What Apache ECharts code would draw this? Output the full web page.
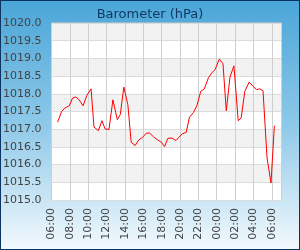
<!DOCTYPE html>
<html><head><meta charset="utf-8">
<script src="https://cdn.jsdelivr.net/npm/echarts@6/dist/echarts.min.js"></script>
<style>html,body{margin:0;padding:0;}#c{width:300px;height:250px;}</style>
</head><body><div id="c"></div>
<script>
const title = 'Barometer (hPa)';
// hours since midnight of day 1 (values > 24 are the next day)
const hours = [6.67,7.10,7.46,7.93,8.30,8.65,9.01,9.44,9.84,10.31,10.63,11.11,11.50,11.83,12.26,12.69,13.17,13.49,13.88,14.32,14.68,15.12,15.51,15.88,16.34,16.70,17.13,17.56,17.97,18.32,18.67,19.12,19.56,19.91,20.24,20.67,21.03,21.46,21.83,22.26,22.65,23.09,23.46,23.81,24.28,24.68,25.04,25.44,25.87,26.34,26.66,27.06,27.53,27.96,28.33,28.69,29.04,29.48,29.91,30.28];
const pressure = [1017.20,1017.50,1017.60,1017.66,1017.88,1017.91,1017.83,1017.66,1017.95,1018.14,1017.06,1016.96,1017.24,1017.01,1016.99,1017.83,1017.27,1017.41,1018.19,1017.69,1016.63,1016.54,1016.70,1016.76,1016.89,1016.89,1016.78,1016.70,1016.63,1016.51,1016.74,1016.75,1016.68,1016.78,1016.87,1016.91,1017.34,1017.47,1017.66,1018.07,1018.14,1018.45,1018.59,1018.68,1018.98,1018.85,1017.52,1018.47,1018.79,1017.24,1017.32,1018.07,1018.33,1018.21,1018.12,1018.14,1018.09,1016.19,1015.48,1017.10];
const xMin = 6, xMax = 31, xStep = 2;
const yMin = 1015, yMax = 1020, yStep = 0.5;

const chart = echarts.init(document.getElementById('c'), null, {renderer:'canvas'});
const font = 'DejaVu Sans';
chart.setOption({
  animation:false,
  backgroundColor:{type:'linear',x:0,y:0,x2:0,y2:1,colorStops:[{offset:0,color:'#4aa5d8'},{offset:0.5,color:'#8ec9e9'},{offset:1,color:'#f3f9fd'}]},
  title:{text:title,left:'center',top:3,textStyle:{fontFamily:font,fontSize:13,fontWeight:'normal',color:'#0d3a63'}},
  graphic:[{type:'rect',shape:{x:0,y:0,width:300,height:250},style:{fill:'none',stroke:'#0b3461',lineWidth:2},silent:true,z:100}],
  grid:{left:50,right:19,top:23,bottom:50,show:true,backgroundColor:'#ffffff',borderColor:'#cccccc',borderWidth:1},
  xAxis:{type:'value',min:xMin,max:xMax,interval:xStep,
    axisLine:{show:false},axisTick:{show:false},
    splitLine:{show:true,lineStyle:{color:'#cfcfcf',width:1}},
    axisLabel:{rotate:90,margin:8,showMaxLabel:false,fontFamily:font,fontSize:11,color:'#444',
      formatter:v=>String(((v%24)+24)%24).padStart(2,'0')+':00'}},
  yAxis:{type:'value',min:yMin,max:yMax,interval:yStep,
    axisLine:{show:false},axisTick:{show:false},
    splitLine:{show:true,lineStyle:{color:'#dcdcdc',width:1}},
    splitArea:{show:true,areaStyle:{color:['#ffffff','#f2f2f2']}},
    axisLabel:{margin:10,fontFamily:font,fontSize:11,color:'#444',formatter:v=>v.toFixed(1)}},
  series:[{type:'line',data:hours.map((h,i)=>[h,pressure[i]]),showSymbol:false,symbol:'none',
    lineStyle:{color:'#ff0000',width:1},itemStyle:{color:'#ff0000'}}]
});
</script></body></html>
